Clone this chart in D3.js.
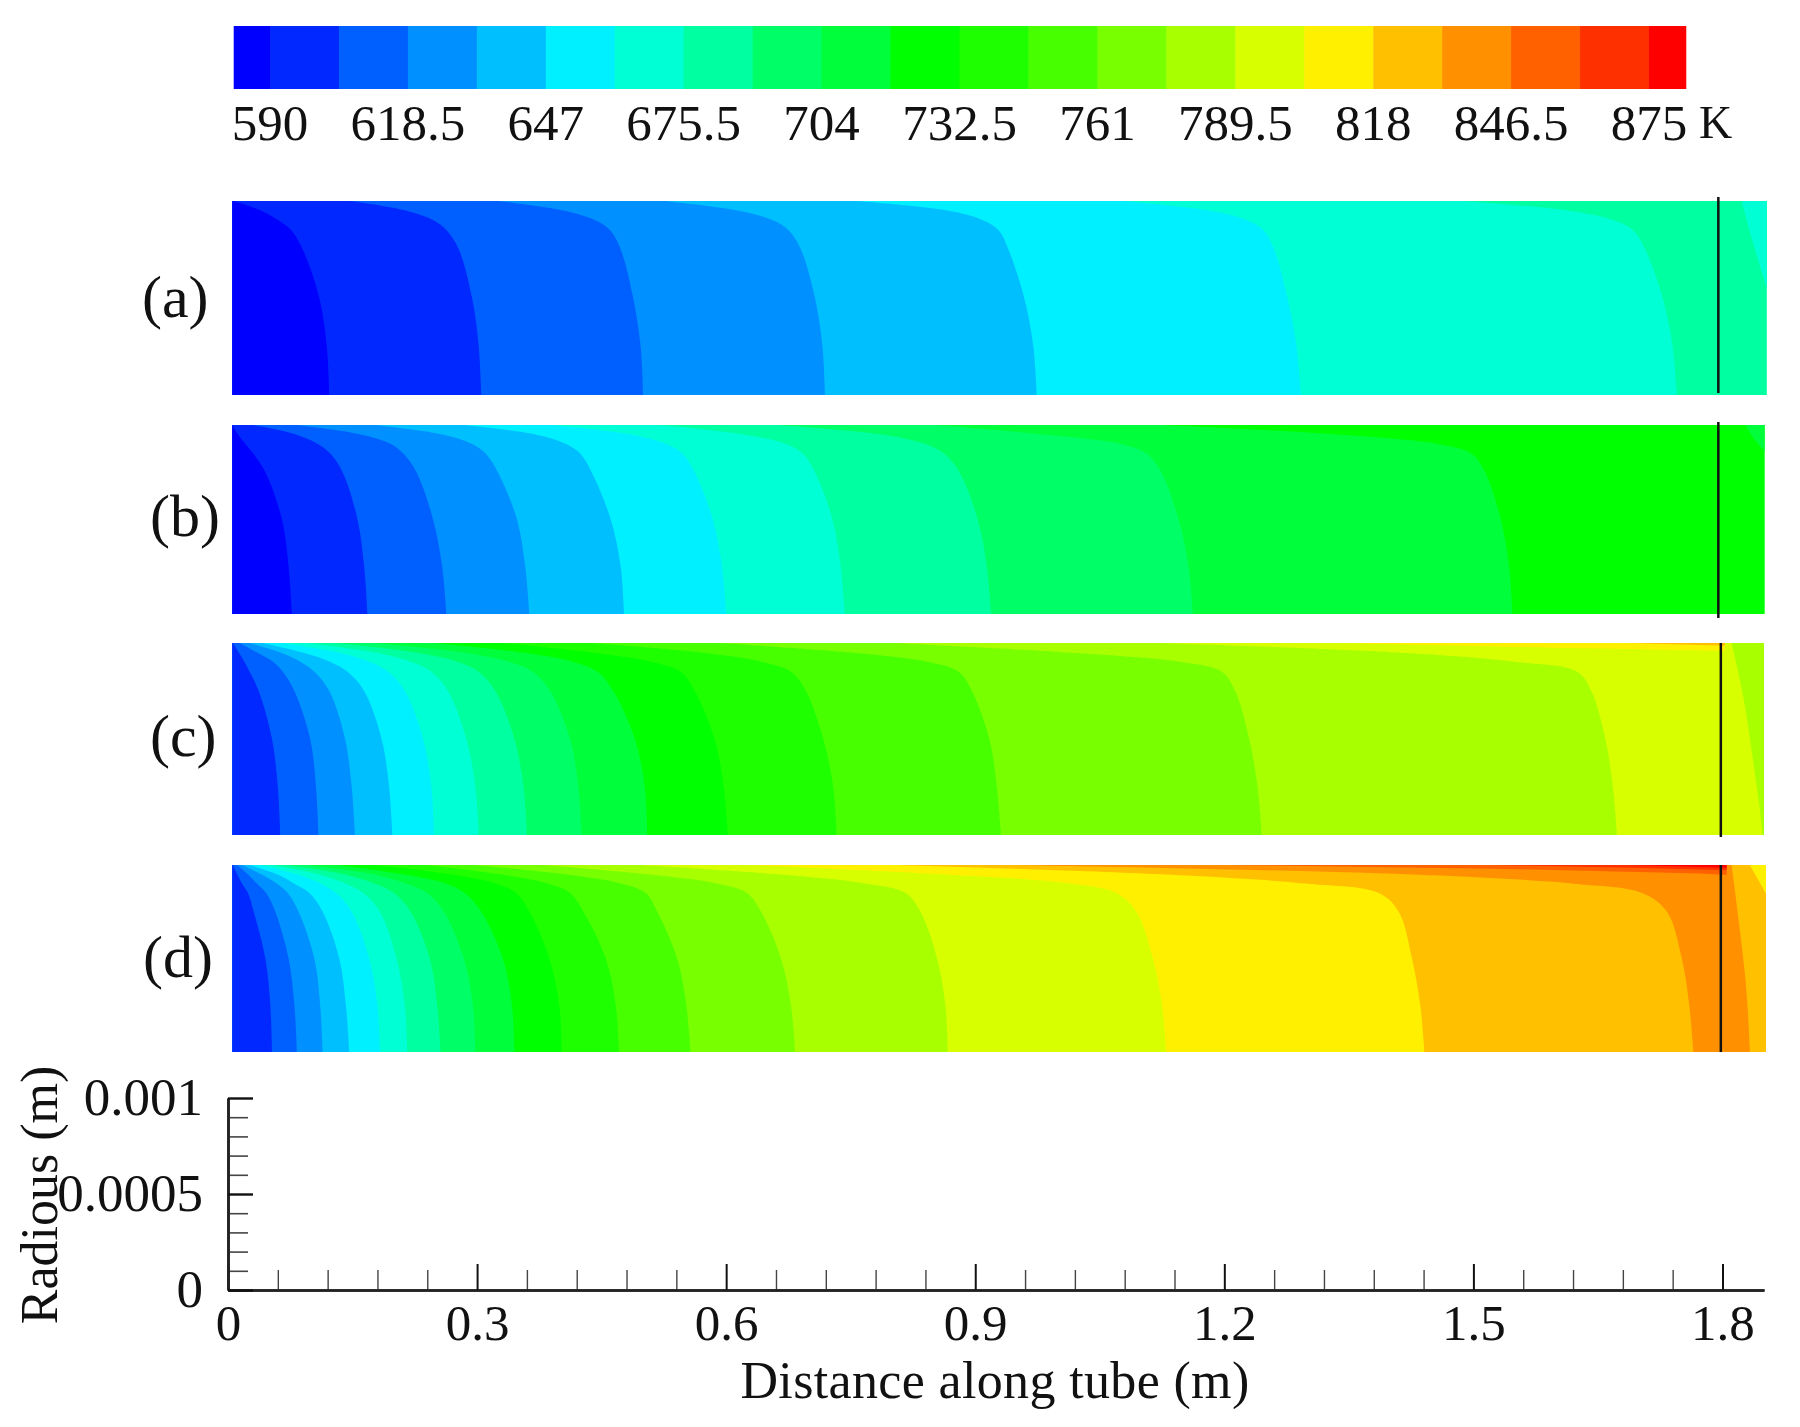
<!DOCTYPE html>
<html>
<head>
<meta charset="utf-8">
<script src="https://cdn.jsdelivr.net/npm/d3@7"></script>
<style>
  html, body { margin: 0; padding: 0; background: #fff; }
  svg { display: block; filter: blur(0.55px); }
  text { font-family: "Liberation Serif", serif; fill: #111; }
</style>
</head>
<body>
<div id="chart"></div>
<script>
// Temperature bands of the colour bar, coldest to hottest
const bandColors = [
  "#0000ff", "#0028ff", "#0060ff", "#0090ff", "#00bfff", "#00f0ff",
  "#00ffd4", "#00ffa0", "#00ff66", "#00ff3a", "#00ff00", "#1eff00",
  "#48ff00", "#78ff00", "#a8ff00", "#d8ff00", "#fff000", "#ffc000",
  "#ff9000", "#ff6000", "#ff3000", "#ff0000",
];
const tempTicks = [590, 618.5, 647, 675.5, 704, 732.5, 761, 789.5, 818, 846.5, 875];
const tempStep = 14.25;
const tempRange = [582.5, 882.6];

const xTicks = [0, 0.3, 0.6, 0.9, 1.2, 1.5, 1.8];
const rTicks = [0, 0.0005, 0.001];
const panelNames = ["(a)", "(b)", "(c)", "(d)"];

// Radius (mm) at which each contour row below was read
const radiusLevels = [0, 0.25, 0.5, 0.75, 0.85, 0.9, 0.95, 1];

// Contour rows: distance along tube (m) at each radius level
const contoursA = [
  [0.122, 0.119, 0.110, 0.090, 0.076, 0.061, 0.040, 0.007],
  [0.305, 0.302, 0.294, 0.278, 0.263, 0.248, 0.215, 0.148],
  [0.500, 0.497, 0.488, 0.473, 0.460, 0.443, 0.405, 0.325],
  [0.719, 0.716, 0.707, 0.690, 0.675, 0.657, 0.615, 0.526],
  [0.974, 0.970, 0.959, 0.940, 0.928, 0.910, 0.868, 0.757],
  [1.292, 1.287, 1.276, 1.260, 1.247, 1.228, 1.183, 1.077],
  [1.745, 1.740, 1.728, 1.707, 1.692, 1.670, 1.615, 1.490],
];
const contoursB = [
  [0.077, 0.073, 0.065, 0.045, 0.030, 0.021, 0.012, 0.005],
  [0.168, 0.164, 0.156, 0.138, 0.123, 0.108, 0.082, 0.030],
  [0.263, 0.258, 0.247, 0.227, 0.211, 0.196, 0.160, 0.083],
  [0.363, 0.358, 0.348, 0.325, 0.310, 0.294, 0.258, 0.177],
  [0.477, 0.473, 0.461, 0.438, 0.424, 0.407, 0.370, 0.284],
  [0.600, 0.595, 0.584, 0.562, 0.547, 0.528, 0.485, 0.390],
  [0.743, 0.738, 0.728, 0.707, 0.692, 0.672, 0.621, 0.521],
  [0.919, 0.914, 0.903, 0.881, 0.862, 0.840, 0.787, 0.662],
  [1.162, 1.157, 1.145, 1.124, 1.106, 1.075, 0.982, 0.852],
  [1.547, 1.543, 1.533, 1.514, 1.497, 1.457, 1.337, 1.124],
];
const contoursC = [
  [0.063, 0.060, 0.053, 0.037, 0.026, 0.020, 0.013, 0.006],
  [0.109, 0.106, 0.099, 0.080, 0.066, 0.055, 0.035, 0.014],
  [0.153, 0.149, 0.141, 0.122, 0.104, 0.088, 0.063, 0.026],
  [0.198, 0.194, 0.185, 0.164, 0.144, 0.124, 0.090, 0.041],
  [0.248, 0.245, 0.235, 0.213, 0.193, 0.172, 0.133, 0.065],
  [0.302, 0.298, 0.287, 0.265, 0.245, 0.222, 0.177, 0.095],
  [0.360, 0.356, 0.345, 0.322, 0.302, 0.278, 0.227, 0.130],
  [0.426, 0.422, 0.412, 0.388, 0.367, 0.340, 0.284, 0.177],
  [0.505, 0.502, 0.490, 0.464, 0.445, 0.417, 0.355, 0.248],
  [0.602, 0.597, 0.586, 0.562, 0.545, 0.512, 0.438, 0.331],
  [0.733, 0.729, 0.717, 0.696, 0.678, 0.645, 0.570, 0.438],
  [0.931, 0.926, 0.917, 0.896, 0.880, 0.845, 0.750, 0.592],
  [1.245, 1.240, 1.230, 1.213, 1.197, 1.150, 1.010, 0.804],
  [1.673, 1.668, 1.659, 1.642, 1.625, 1.555, 1.408, 1.124],
];
const contoursD = [
  [0.053, 0.051, 0.045, 0.031, 0.024, 0.017, 0.011, 0.006],
  [0.083, 0.080, 0.073, 0.057, 0.046, 0.035, 0.024, 0.011],
  [0.114, 0.111, 0.104, 0.085, 0.072, 0.059, 0.040, 0.017],
  [0.146, 0.142, 0.134, 0.114, 0.098, 0.080, 0.059, 0.026],
  [0.183, 0.180, 0.170, 0.149, 0.130, 0.112, 0.083, 0.038],
  [0.216, 0.213, 0.203, 0.183, 0.163, 0.142, 0.109, 0.053],
  [0.256, 0.252, 0.243, 0.220, 0.200, 0.177, 0.140, 0.071],
  [0.298, 0.295, 0.284, 0.260, 0.240, 0.215, 0.175, 0.095],
  [0.345, 0.342, 0.331, 0.305, 0.285, 0.263, 0.211, 0.130],
  [0.402, 0.399, 0.387, 0.363, 0.347, 0.323, 0.268, 0.177],
  [0.471, 0.467, 0.455, 0.428, 0.412, 0.386, 0.328, 0.237],
  [0.557, 0.552, 0.541, 0.517, 0.503, 0.474, 0.405, 0.296],
  [0.683, 0.678, 0.666, 0.642, 0.625, 0.590, 0.505, 0.379],
  [0.867, 0.864, 0.854, 0.834, 0.816, 0.769, 0.662, 0.497],
  [1.130, 1.125, 1.114, 1.094, 1.070, 1.017, 0.860, 0.627],
  [1.441, 1.436, 1.426, 1.410, 1.386, 1.301, 1.124, 0.804],
  [1.765, 1.760, 1.751, 1.733, 1.703, 1.621, 1.420, 0.946],
];
// Colour band left of the first contour in each panel
const firstBands = [0, 0, 1, 1];

// Cooler zones past the outlet: [band, [x m, radius mm] ...]
const outletsA = [[6, [[1.823, 1], [1.835, 0.81], [1.8535, 0.55]]]];
const outletsB = [[9, [[1.828, 1], [1.839, 0.92], [1.851, 0.86]]]];
const outletsC = [[14, [[1.811, 1], [1.825, 0.72], [1.837, 0.38], [1.847, 0.05], [1.848, 0]]]];
const outletsD = [
  [17, [[1.811, 1], [1.819, 0.72], [1.828, 0.37], [1.833, 0]]],
  [16, [[1.833, 1], [1.852, 0.85]]],
];
// Hot strips along the wall: [band, [x m, radius mm] ...]
const stripsC = [
  [16, [[1.337, 1], [1.6, 0.975], [1.803, 0.96]]],
  [17, [[1.685, 1], [1.803, 0.986]]],
];
const stripsD = [
  [19, [[1.207, 1], [1.526, 0.98], [1.775, 0.955], [1.805, 0.947]]],
  [20, [[1.526, 1], [1.692, 0.985], [1.805, 0.972]]],
  [21, [[1.692, 1], [1.805, 0.985]]],
];

// Page layout
const width = 1800;
const height = 1427;
const axisX = [228, 1764];
const axisY = [1290, 1098];
const barBox = { left: 235.5, right: 1686, top: 26, bottom: 89, labelY: 140 };
const tempScaleRange = [270, 1649];
const panelLeft = 0.005; // panels start just right of x = 0 on the axis

const panels = [
  { contours: contoursA, outlets: outletsA, strips: [], top: 201, bottom: 395, right: 1.8535, marker: 1.795, markerY: [197, 393], labelX: 142, labelY: 317 },
  { contours: contoursB, outlets: outletsB, strips: [], top: 425, bottom: 614, right: 1.851, marker: 1.795, markerY: [422, 618], labelX: 150, labelY: 536 },
  { contours: contoursC, outlets: outletsC, strips: stripsC, top: 643, bottom: 835, right: 1.85, marker: 1.798, markerY: [643, 837], labelX: 150, labelY: 756 },
  { contours: contoursD, outlets: outletsD, strips: stripsD, top: 865, bottom: 1052, right: 1.8525, marker: 1.798, markerY: [865, 1052], labelX: 143, labelY: 977 },
];

const svg = d3.select("#chart").append("svg").attr("width", width).attr("height", height);

const x = d3.scaleLinear().domain([0, 1.85]).range(axisX);
const y = d3.scaleLinear().domain([0, 0.001]).range(axisY);

// Colour bar
const tempX = d3.scaleLinear().domain([tempTicks[0], tempTicks[tempTicks.length - 1]]).range(tempScaleRange);
const bandEdges = [tempRange[0], ...d3.range(bandColors.length - 1).map((i) => tempTicks[0] + i * tempStep), tempRange[1]];

svg.append("g").selectAll("rect")
  .data(bandColors)
  .join("rect")
  .attr("x", (d, i) => tempX(bandEdges[i]))
  .attr("y", barBox.top)
  .attr("width", (d, i) => tempX(bandEdges[i + 1]) - tempX(bandEdges[i]) + 0.5)
  .attr("height", barBox.bottom - barBox.top)
  .attr("fill", (d) => d);

svg.append("g").selectAll("text")
  .data(tempTicks)
  .join("text")
  .attr("x", (d) => tempX(d))
  .attr("y", barBox.labelY)
  .attr("text-anchor", "middle")
  .style("font-size", "51px")
  .text((d) => d);

svg.append("text").attr("x", 1699).attr("y", 138).style("font-size", "46px").text("K");

// One contour panel, painted from the hottest band back to the coldest
function drawPanel(p, index) {
  const r = d3.scaleLinear().domain([0, 1]).range([p.bottom, p.top]);
  const clipId = `panel-clip-${index}`;
  const left = x(panelLeft);
  const right = x(p.right);

  svg.append("clipPath").attr("id", clipId).append("rect")
    .attr("x", left).attr("y", p.top).attr("width", right - left).attr("height", p.bottom - p.top);

  const g = svg.append("g").attr("clip-path", `url(#${clipId})`);
  const lastBand = firstBands[index] + p.contours.length;

  g.append("rect")
    .attr("x", left).attr("y", p.top).attr("width", right - left).attr("height", p.bottom - p.top)
    .attr("fill", bandColors[lastBand]);

  // Region left of each contour
  const leftOf = d3.area()
    .y((d) => r(d[1]))
    .x0(left)
    .x1((d) => x(d[0]))
    .curve(d3.curveCatmullRom.alpha(0.5));

  const rows = p.contours.map((row, i) => ({
    band: firstBands[index] + i,
    points: row.map((v, j) => [v, radiusLevels[j]]).reverse(),
  }));

  g.selectAll(".band")
    .data(rows.reverse())
    .join("path")
    .attr("class", "band")
    .attr("fill", (d) => bandColors[d.band])
    .attr("d", (d) => leftOf(d.points));

  // Outlet zones fill from the contour out to the right edge
  const rightOf = d3.area()
    .y((d) => r(d[1]))
    .x0((d) => x(d[0]))
    .x1(right)
    .curve(d3.curveMonotoneY);

  g.selectAll(".outlet")
    .data(p.outlets)
    .join("path")
    .attr("class", "outlet")
    .attr("fill", (d) => bandColors[d[0]])
    .attr("d", (d) => rightOf(d[1]));

  // Wall strips hang down from r = 1
  const underWall = d3.area()
    .x((d) => x(d[0]))
    .y0(r(1))
    .y1((d) => r(d[1]));

  g.selectAll(".strip")
    .data(p.strips)
    .join("path")
    .attr("class", "strip")
    .attr("fill", (d) => bandColors[d[0]])
    .attr("d", (d) => underWall(d[1]));

  svg.append("line")
    .attr("x1", x(p.marker)).attr("x2", x(p.marker))
    .attr("y1", p.markerY[0]).attr("y2", p.markerY[1])
    .attr("stroke", "#111")
    .attr("stroke-width", 2.5);

  svg.append("text")
    .attr("x", p.labelX)
    .attr("y", p.labelY)
    .style("font-size", "60px")
    .text(panelNames[index]);
}

panels.forEach(drawPanel);

// Axes: ticks point inward, minor ticks sit on their own axis
const xMinor = d3.axisBottom(x)
  .tickValues(d3.range(0, 31).map((i) => i * 0.06).filter((v) => !xTicks.some((t) => Math.abs(t - v) < 1e-6)))
  .tickSize(-20).tickSizeOuter(0).tickFormat("");
const yMinor = d3.axisLeft(y)
  .tickValues(d3.range(1, 10).map((i) => i * 0.0001).filter((v) => !rTicks.some((t) => Math.abs(t - v) < 1e-9)))
  .tickSize(-20).tickSizeOuter(0).tickFormat("");

const xMajor = d3.axisBottom(x)
  .tickValues(xTicks).tickSize(-26).tickSizeOuter(0).tickPadding(14)
  .tickFormat((d) => d);
const yMajor = d3.axisLeft(y)
  .tickValues(rTicks).tickSize(-25).tickSizeOuter(0).tickPadding(25)
  .tickFormat((d) => d);

function styleAxis(g, tickWidth, tickColor, fontSize) {
  g.select(".domain").attr("stroke", "#222").attr("stroke-width", 2.6);
  g.selectAll(".tick line").attr("stroke", tickColor).attr("stroke-width", tickWidth);
  g.selectAll(".tick text").style("font-family", '"Liberation Serif", serif').style("font-size", fontSize).attr("fill", "#111");
}

svg.append("g").attr("transform", `translate(0,${axisY[0]})`).call(xMinor).call(styleAxis, 1.4, "#444", "51px");
svg.append("g").attr("transform", `translate(${axisX[0]},0)`).call(yMinor).call(styleAxis, 1.6, "#444", "53px");
svg.append("g").attr("transform", `translate(0,${axisY[0]})`).call(xMajor).call(styleAxis, 2, "#111", "51px");
svg.append("g").attr("transform", `translate(${axisX[0]},0)`).call(yMajor).call(styleAxis, 2.4, "#111", "53px");

svg.append("text")
  .attr("x", 995)
  .attr("y", 1398)
  .attr("text-anchor", "middle")
  .style("font-size", "52px")
  .style("letter-spacing", "0.35px")
  .text("Distance along tube (m)");

svg.append("text")
  .attr("transform", "translate(57,1195) rotate(-90)")
  .attr("text-anchor", "middle")
  .style("font-size", "52px")
  .text("Radious (m)");
</script>
</body>
</html>
